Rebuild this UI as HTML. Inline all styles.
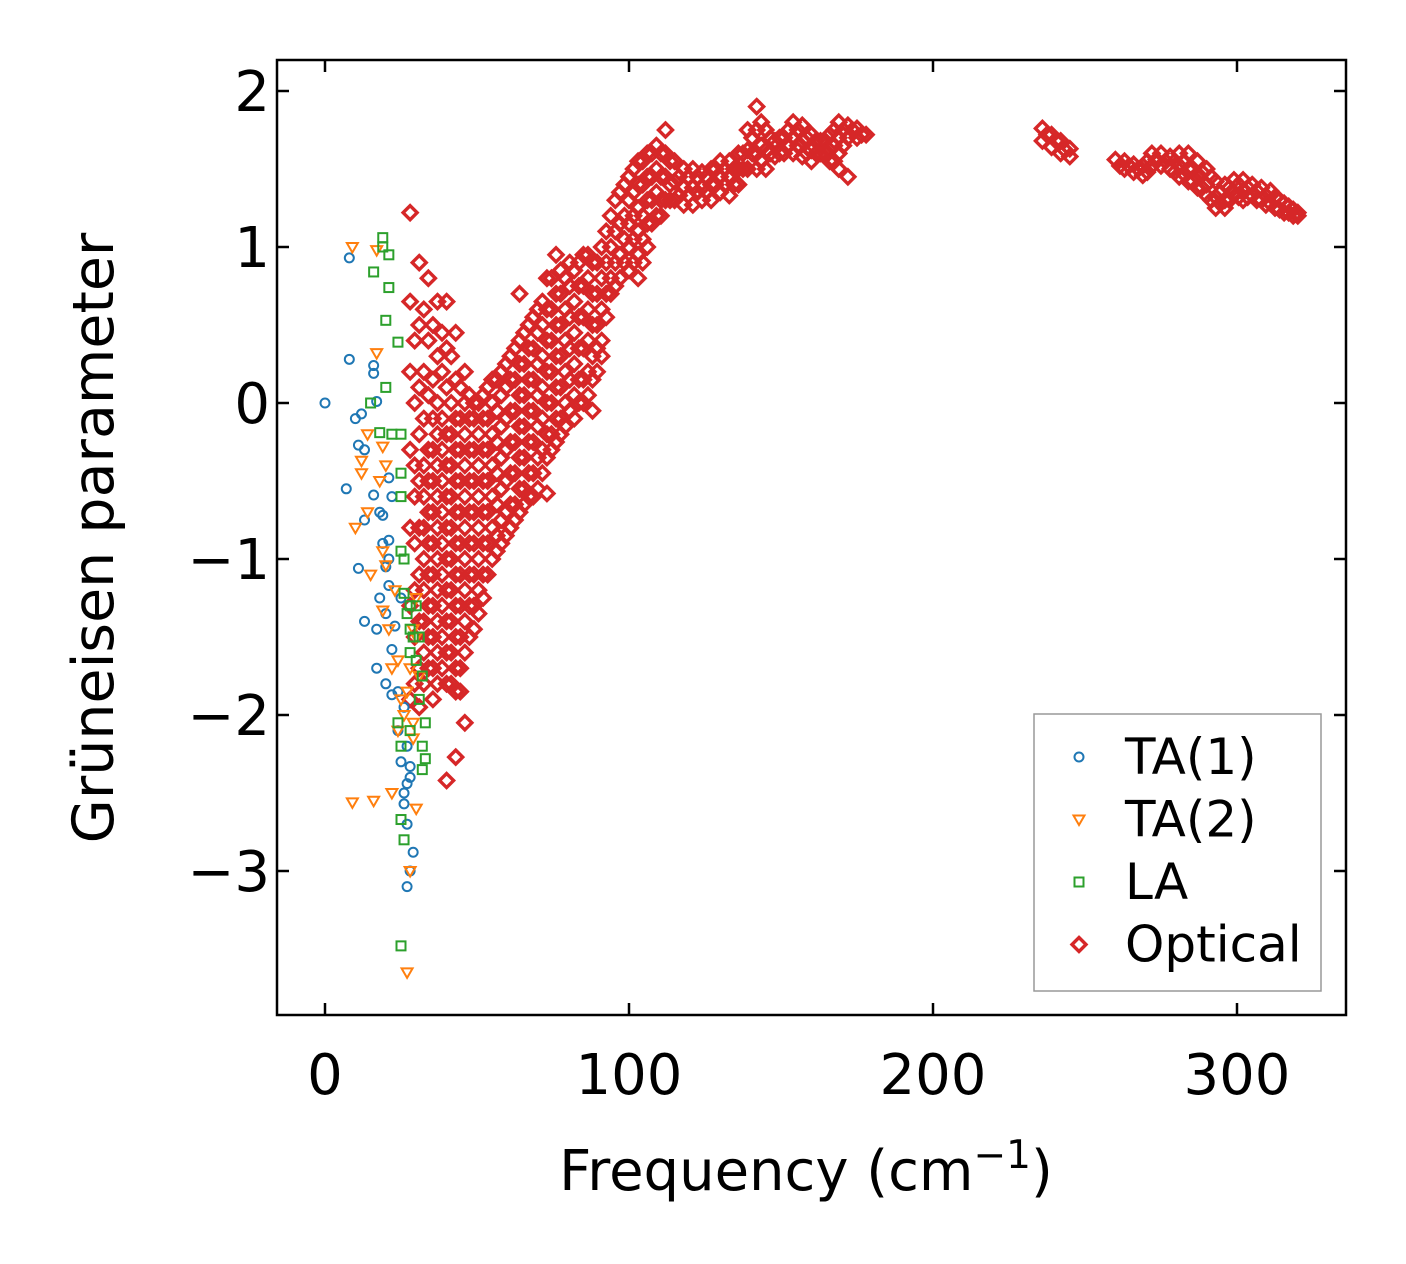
<!DOCTYPE html>
<html><head><meta charset="utf-8"><style>
html,body{margin:0;padding:0;background:#fff;}
svg{display:block;font-family:"DejaVu Sans","Liberation Sans",sans-serif;}
</style></head><body>
<svg id="chart" width="1406" height="1264" viewBox="0 0 1406 1264" xmlns="http://www.w3.org/2000/svg">
<rect width="1406" height="1264" fill="#fff"/>
<g id="marks"></g>
<rect x="277" y="60" width="1069" height="955" fill="none" stroke="#000" stroke-width="2.5"/>
<g id="ticks"></g>
<text x="806" y="1190" font-size="56" text-anchor="middle">Frequency (cm<tspan dy="-22" font-size="39">−1</tspan><tspan dy="22">)</tspan></text>
<text transform="translate(113,538) rotate(-90)" font-size="57" text-anchor="middle">Grüneisen parameter</text>
<g id="legend">
<rect x="1034" y="714" width="287" height="277" fill="#fff" fill-opacity="0.8" stroke="#999" stroke-width="1.5"/>
</g>
</svg>
<script>
const xTicks=[0,100,200,300];
const yTicks=[2,1,0,-1,-2,-3];
const yTickLabels=["2","1","0","−1","−2","−3"];
const ta1X=[0,8,8,10,12,11,13,7,11,13,13,16,16,17,16,18,19,17,18,19,20,21,21,21,20,17,20,22,22,24,21,22,24,25,26,26,27,27,28,28,29,28,27,27,26,23,25];
const ta1Y=[0,0.93,0.28,-0.1,-0.07,-0.27,-0.3,-0.55,-1.06,-0.75,-1.4,0.24,0.19,0.01,-0.59,-0.7,-0.72,-1.45,-1.25,-0.9,-1.05,-0.88,-1.0,-1.17,-1.35,-1.7,-1.8,-1.58,-1.87,-1.85,-0.48,-0.6,-2.1,-2.3,-2.5,-2.57,-2.7,-2.44,-2.33,-2.4,-2.88,-3.0,-3.1,-2.2,-1.95,-1.43,-1.25];
const ta2X=[9,17,17,14,12,12,10,14,15,18,19,20,19,20,19,21,23,22,24,25,24,26,27,28,29,30,31,22,16,9,27,28,30,29,30,29];
const ta2Y=[1.0,0.98,0.32,-0.2,-0.37,-0.45,-0.8,-0.7,-1.1,-0.5,-0.28,-0.4,-0.95,-1.04,-1.33,-1.45,-1.2,-1.7,-1.65,-1.9,-2.1,-2.0,-1.85,-1.7,-2.05,-1.5,-1.75,-2.5,-2.55,-2.56,-3.65,-3.0,-2.6,-2.15,-1.25,-1.45];
const laX=[19,19,21,16,21,20,24,20,15,22,25,18,25,25,25,26,26,27,28,28,29,31,30,32,31,33,32,33,32,25,24,28,25,26,25,30,28];
const laY=[1.06,1.0,0.95,0.84,0.74,0.53,0.39,0.1,0,-0.2,-0.2,-0.19,-0.45,-0.6,-0.95,-1.0,-1.22,-1.35,-1.3,-1.45,-1.5,-1.5,-1.65,-1.75,-1.9,-2.05,-2.2,-2.28,-2.35,-2.2,-2.05,-2.1,-2.67,-2.8,-3.48,-1.3,-1.6];
const opticalRows=[
[28,[1.22,0.65,0.2,-0.3,-0.8,-1.3,-1.9]],
[31,[0.9,0.5,0.1,-0.2,-0.5,-0.8,-1.1,-1.4,-1.7,-1.95]],
[34,[0.8,0.4,0.05,-0.3,-0.5,-0.7,-0.9,-1.1,-1.3,-1.5,-1.7]],
[37,[0.65,0.3,0,-0.2,-0.4,-0.6,-0.8,-1.0,-1.2,-1.4,-1.6,-1.8]],
[40,[0.65,0.35,0.1,-0.2,-0.4,-0.6,-0.8,-1.0,-1.2,-1.4,-1.6,-1.8,-2.42]],
[43,[0.45,0.15,-0.1,-0.3,-0.5,-0.7,-0.9,-1.1,-1.3,-1.5,-1.7,-1.85,-2.27]],
[46,[0.2,0,-0.2,-0.4,-0.6,-0.8,-1.0,-1.2,-1.4,-1.6,-2.05]],
[49,[0,-0.1,-0.3,-0.5,-0.7,-0.9,-1.1,-1.3,-1.45]],
[52,[0.05,-0.1,-0.3,-0.5,-0.7,-0.9,-1.1,-1.25]],
[55,[0.15,0,-0.2,-0.4,-0.6,-0.8,-1.0]],
[58,[0.2,0.05,-0.15,-0.35,-0.55,-0.75,-0.9]],
[61,[0.3,0.15,-0.05,-0.25,-0.45,-0.65,-0.8]],
[64,[0.7,0.4,0.25,0.05,-0.15,-0.35,-0.55,-0.7]],
[67,[0.5,0.35,0.15,-0.05,-0.25,-0.45,-0.6]],
[70,[0.6,0.45,0.25,0.05,-0.15,-0.35,-0.55]],
[73,[0.8,0.6,0.4,0.2,0,-0.2,-0.35,-0.58]],
[76,[0.95,0.7,0.5,0.3,0.1,-0.1,-0.25]],
[79,[0.8,0.6,0.4,0.2,0,-0.15]],
[82,[0.85,0.65,0.45,0.25,0.05,-0.1]],
[85,[0.95,0.75,0.55,0.35,0.15,0]],
[88,[0.9,0.7,0.5,0.3,0.15,-0.05]],
[91,[1.0,0.8,0.6,0.4,0.3]],
[94,[1.2,1.0,0.8,0.7]],
[97,[1.35,1.15,0.95,0.8]],
[100,[1.45,1.3,1.15,1.0,0.85]],
[103,[1.55,1.4,1.25,1.1,0.95,0.8]],
[106,[1.6,1.45,1.3,1.15,1.0]],
[109,[1.65,1.5,1.35,1.2]],
[112,[1.75,1.6,1.45,1.3]],
[115,[1.55,1.42,1.3]],
[118,[1.5,1.38,1.27]],
[121,[1.5,1.38,1.27]],
[124,[1.48,1.38,1.3]],
[127,[1.5,1.4,1.3]],
[130,[1.55,1.45,1.35]],
[133,[1.55,1.45,1.33]],
[136,[1.6,1.5,1.4]],
[139,[1.75,1.62,1.5]],
[142,[1.9,1.75,1.6,1.5]],
[145,[1.75,1.62,1.5]],
[148,[1.68,1.58]],
[151,[1.7,1.6]],
[154,[1.8,1.7,1.6]],
[157,[1.78,1.68,1.58]],
[160,[1.72,1.62,1.55]],
[163,[1.68,1.6]],
[166,[1.72,1.62,1.55]],
[169,[1.8,1.7,1.6,1.5]],
[172,[1.78,1.7,1.45]],
[175,[1.76,1.7]],
[178,[1.72]],
[236,[1.76,1.68]],
[239,[1.72,1.64]],
[242,[1.68,1.6]],
[245,[1.63,1.58]],
[260,[1.56]],
[263,[1.55,1.5]],
[266,[1.53,1.48]],
[269,[1.52,1.46]],
[272,[1.6,1.52]],
[275,[1.6,1.52]],
[278,[1.58,1.5]],
[281,[1.6,1.52,1.45]],
[284,[1.6,1.5,1.42]],
[287,[1.55,1.45,1.38]],
[290,[1.5,1.4,1.33]],
[293,[1.42,1.32,1.25]],
[296,[1.4,1.3,1.25]],
[299,[1.43,1.35]],
[302,[1.43,1.36,1.3]],
[305,[1.4,1.33]],
[308,[1.38,1.3]],
[311,[1.36,1.28]],
[314,[1.3,1.24]],
[317,[1.26,1.22]],
[320,[1.22,1.2]],
[29.5,[0.4,0,-0.4,-0.6,-0.9,-1.2,-1.5,-1.8]],
[32.5,[0.6,0.2,-0.1,-0.4,-0.6,-0.8,-1.0,-1.2,-1.4,-1.6,-1.8]],
[35.5,[0.5,0.15,-0.1,-0.3,-0.5,-0.7,-0.9,-1.1,-1.3,-1.5,-1.7,-1.9]],
[38.5,[0.45,0.2,-0.1,-0.3,-0.5,-0.7,-0.9,-1.1,-1.3,-1.5,-1.7]],
[41.5,[0.3,0,-0.2,-0.4,-0.6,-0.8,-1.0,-1.2,-1.4,-1.6,-1.8]],
[44.5,[0.1,-0.1,-0.3,-0.5,-0.7,-0.9,-1.1,-1.3,-1.5,-1.7,-1.85]],
[47.5,[0.05,-0.1,-0.3,-0.5,-0.7,-0.9,-1.1,-1.3,-1.5]],
[50.5,[0,-0.2,-0.4,-0.6,-0.8,-1.0,-1.2,-1.35]],
[53.5,[0.1,-0.1,-0.3,-0.5,-0.7,-0.9,-1.1]],
[56.5,[0.15,-0.05,-0.25,-0.45,-0.65,-0.85,-0.95]],
[59.5,[0.25,0.1,-0.1,-0.3,-0.5,-0.7,-0.85]],
[62.5,[0.35,0.15,-0.05,-0.25,-0.45,-0.65,-0.75]],
[65.5,[0.45,0.25,0.05,-0.15,-0.35,-0.55,-0.65]],
[68.5,[0.55,0.35,0.15,-0.05,-0.25,-0.45,-0.6]],
[71.5,[0.65,0.5,0.3,0.1,-0.1,-0.3,-0.45]],
[74.5,[0.8,0.6,0.4,0.2,0,-0.2,-0.3]],
[77.5,[0.85,0.7,0.5,0.3,0.1,-0.1,-0.2]],
[80.5,[0.9,0.75,0.55,0.35,0.15,-0.05]],
[83.5,[0.9,0.75,0.55,0.35,0.15,0]],
[86.5,[0.95,0.8,0.6,0.4,0.2,0.05]],
[89.5,[0.9,0.7,0.5,0.35,0.2]],
[92.5,[1.1,0.9,0.7,0.55]],
[95.5,[1.3,1.1,0.9,0.75]],
[98.5,[1.4,1.2,1.05,0.9]],
[101.5,[1.5,1.35,1.2,1.05,0.9]],
[104.5,[1.55,1.4,1.2,1.05,0.9]],
[107.5,[1.6,1.45,1.3,1.15]],
[110.5,[1.6,1.45,1.3,1.2]],
[113.5,[1.55,1.4,1.3]],
[116.5,[1.45,1.33]],
[119.5,[1.45,1.33]],
[122.5,[1.45,1.35]],
[125.5,[1.45,1.35]],
[128.5,[1.5,1.4]],
[131.5,[1.5,1.4]],
[134.5,[1.5,1.4]],
[137.5,[1.6,1.5]],
[140.5,[1.7,1.6]],
[143.5,[1.8,1.65,1.55]],
[146.5,[1.7,1.6]],
[149.5,[1.7,1.6]],
[152.5,[1.75,1.65]],
[155.5,[1.75,1.65]],
[158.5,[1.7,1.6]],
[161.5,[1.68,1.6]],
[164.5,[1.68,1.6]],
[167.5,[1.75,1.65,1.55]],
[170.5,[1.75,1.65]],
[173.5,[1.75]],
[176.5,[1.72]],
[237.5,[1.72]],
[240.5,[1.68]],
[243.5,[1.62]],
[261.5,[1.52]],
[264.5,[1.52]],
[267.5,[1.5]],
[270.5,[1.55,1.48]],
[273.5,[1.56]],
[276.5,[1.55]],
[279.5,[1.55,1.48]],
[282.5,[1.55,1.47]],
[285.5,[1.5,1.42]],
[288.5,[1.48,1.38]],
[291.5,[1.45,1.3]],
[294.5,[1.35,1.28]],
[297.5,[1.38,1.3]],
[300.5,[1.4,1.32]],
[303.5,[1.38,1.32]],
[306.5,[1.36,1.3]],
[309.5,[1.33,1.27]],
[312.5,[1.32,1.25]],
[315.5,[1.28,1.22]],
[318.5,[1.24,1.2]]
];
const NS="http://www.w3.org/2000/svg";
const xs=v=>325+v*3.04;
const ys=v=>403-v*156;
const C={ta1:"#1f77b4",ta2:"#ff7f0e",la:"#2ca02c",opt:"#d62728"};
function marker(kind,cx,cy,parent){
  let el;
  if(kind==="ta1"){el=document.createElementNS(NS,"circle");el.setAttribute("cx",cx);el.setAttribute("cy",cy);el.setAttribute("r",4.5);}
  else if(kind==="ta2"){el=document.createElementNS(NS,"polygon");el.setAttribute("points",`${cx-5.5},${cy-4} ${cx+5.5},${cy-4} ${cx},${cy+5.5}`);}
  else if(kind==="la"){el=document.createElementNS(NS,"rect");el.setAttribute("x",cx-4.5);el.setAttribute("y",cy-4.5);el.setAttribute("width",9);el.setAttribute("height",9);}
  else {el=document.createElementNS(NS,"polygon");el.setAttribute("points",`${cx},${cy-7} ${cx+7},${cy} ${cx},${cy+7} ${cx-7},${cy}`);}
  el.setAttribute("fill","none");el.setAttribute("stroke",C[kind]);el.setAttribute("stroke-width",kind==="opt"?3.4:2);
  parent.appendChild(el);return el;
}
const marks=document.getElementById("marks");
opticalRows.forEach(r=>r[1].forEach(y=>{
  const m=marker("opt",xs(r[0]),ys(y),marks);
  
  
}));
[["ta1",ta1X,ta1Y,"ta1-point"],["ta2",ta2X,ta2Y,"ta2-point"],["la",laX,laY,"la-point"]].forEach(s=>{
  s[1].forEach((x,i)=>{
    const m=marker(s[0],xs(x),ys(s[2][i]),marks);
    
    
  });
});
const ticks=document.getElementById("ticks");
function line(x1,y1,x2,y2){const l=document.createElementNS(NS,"line");l.setAttribute("x1",x1);l.setAttribute("y1",y1);l.setAttribute("x2",x2);l.setAttribute("y2",y2);l.setAttribute("stroke","#000");l.setAttribute("stroke-width",2.5);ticks.appendChild(l);return l;}
function text(x,y,s,anchor,size,parent){const t=document.createElementNS(NS,"text");t.setAttribute("x",x);t.setAttribute("y",y);t.setAttribute("text-anchor",anchor);t.setAttribute("font-size",size);t.textContent=s;(parent||ticks).appendChild(t);return t;}
xTicks.forEach(v=>{
  const x=xs(v);
  const a=line(x,1015,x,1003);
  const b=line(x,60,x,72);
  const t=text(x,1094,String(v),"middle",56);
});
yTicks.forEach((v,i)=>{
  const y=ys(v);
  const a=line(277,y,289,y);
  const b=line(1346,y,1334,y);
  const t=text(270,y+20,yTickLabels[i],"end",56);
});
const legend=document.getElementById("legend");
const legendLabels=["TA(1)","TA(2)","LA","Optical"];
const legendKinds=["ta1","ta2","la","opt"];
legendLabels.forEach((lab,i)=>{
  const y=757+i*62.5;
  const m=marker(legendKinds[i],1079,y,legend);
  
  
  const t=text(1125,y+17,lab,"start",50,legend);
  
  
});
</script>
</body></html>
